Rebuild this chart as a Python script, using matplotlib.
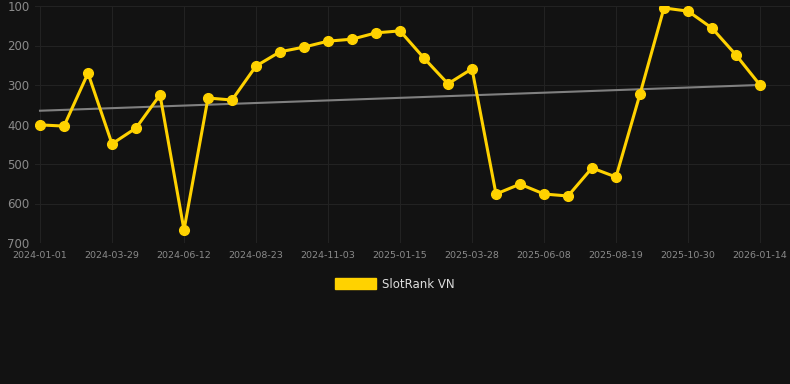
import matplotlib
matplotlib.use('Agg')
import matplotlib.pyplot as plt
import numpy as np
from matplotlib.patches import Patch

# rank per sample (lower is better), ~24 days apart
ranks = [401, 404, 270, 449, 409, 325, 667, 333, 338, 252, 216, 204, 189, 184, 168,
         163, 232, 297, 259, 576, 551, 576, 581, 510, 533, 323, 105, 113, 156, 224, 300]
tick_labels = ['2024-01-01', '2024-03-29', '2024-06-12', '2024-08-23', '2024-11-03',
               '2025-01-15', '2025-03-28', '2025-06-08', '2025-08-19', '2025-10-30',
               '2026-01-14']
series_name = 'SlotRank VN'

bg = '#121212'
gold = '#FFD200'

fig = plt.figure(figsize=(7.9, 3.84), dpi=100, facecolor=bg)
ax = fig.add_axes([35 / 790, 141 / 384, 755 / 790, 237 / 384])
ax.set_facecolor(bg)

x = np.arange(len(ranks))
ax.plot(x, ranks, color=gold, lw=2.2, marker='o', ms=7, zorder=3)

# linear trend
k, b = np.polyfit(x, ranks, 1)
ax.plot(x, k * x + b, color='#808080', lw=1.5, zorder=2)

ax.set_xlim(-5 / 24, 30 + 30 / 24)
ax.set_ylim(700, 100)
ax.set_yticks([100, 200, 300, 400, 500, 600, 700])
ax.set_xticks(x[::3])
ax.set_xticklabels(tick_labels)

ax.grid(True, color='#222222', lw=0.8)
for s in ax.spines.values():
    s.set_visible(False)
ax.tick_params(axis='y', colors='#8a8a8a', labelsize=8.5, length=0, pad=4)
ax.tick_params(axis='x', colors='#8a8a8a', labelsize=6.8, length=0, pad=6)

fig.legend(handles=[Patch(color=gold, label=series_name)], loc='center',
           bbox_to_anchor=(0.5, 1 - 284 / 384), frameon=False, fontsize=8.5,
           labelcolor='#dddddd', handlelength=3.5, handleheight=1.0,
           handletextpad=0.5)

fig.savefig('out.png', dpi=100, facecolor=bg)
